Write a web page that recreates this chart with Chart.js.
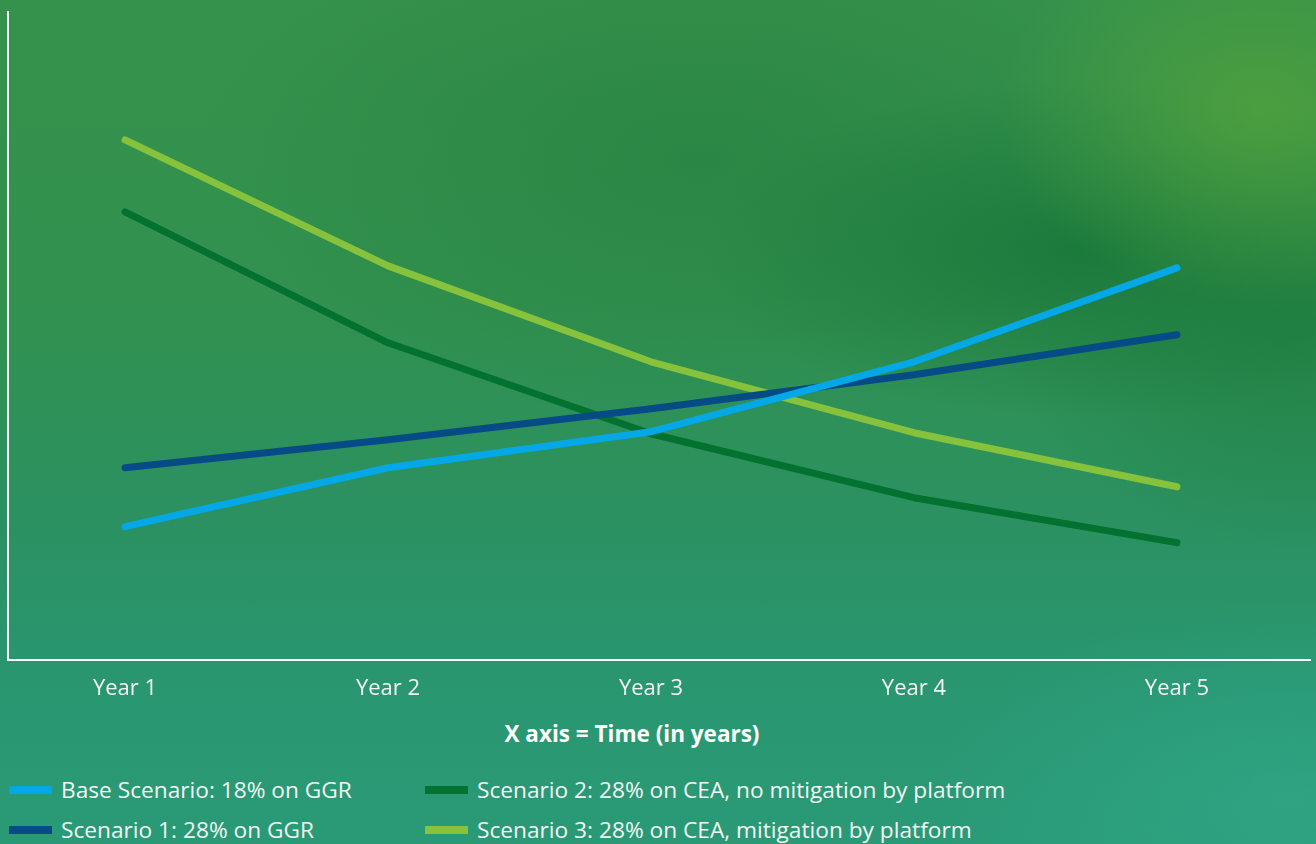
<!DOCTYPE html>
<html>
<head>
<meta charset="utf-8">
<script src="https://cdn.jsdelivr.net/npm/chart.js@4"></script>
<style>
  html, body { margin:0; padding:0; }
  body {
    width:1316px; height:844px; overflow:hidden; position:relative;
    font-family:"Open Sans", sans-serif;
    background:
      radial-gradient(ellipse 260px 200px at 1260px 110px, rgba(80,160,60,0.85), rgba(80,160,60,0) 100%),
      radial-gradient(ellipse 380px 170px at 1080px 250px, rgba(20,115,55,0.75), rgba(20,115,55,0) 100%),
      radial-gradient(ellipse 300px 220px at 1300px 330px, rgba(25,120,60,0.6), rgba(25,120,60,0) 100%),
      radial-gradient(ellipse 500px 260px at 700px 160px, rgba(35,125,60,0.55), rgba(35,125,60,0) 100%),
      radial-gradient(ellipse 360px 200px at 1290px 800px, rgba(50,170,140,0.6), rgba(50,170,140,0) 100%),
      linear-gradient(180deg, #35924c 0%, #32914f 35%, #2b9162 62%, #299670 80%, #2a9a76 100%);
  }
  #wrap { position:absolute; left:0; top:0; width:1316px; height:718px; }
  #xtitle { position:absolute; left:432px; width:400px; top:719px; text-align:center;
            color:#ffffff; font-weight:bold; font-size:22.5px; line-height:30px; white-space:nowrap; }
  #legend { position:absolute; left:0; top:770px; width:1316px; height:74px; }
  .item { position:absolute; display:flex; align-items:center; color:#f2f7f4; font-size:22.7px; line-height:28px; white-space:nowrap; }
  .swatch { width:43px; height:8px; margin-right:9px; }
</style>
</head>
<body>
<div id="wrap"><canvas id="c" width="1316" height="718"></canvas></div>
<div id="xtitle"></div>
<div id="legend"></div>
<script>
const categories = ["Year 1", "Year 2", "Year 3", "Year 4", "Year 5"];
const seriesNames = [
  "Base Scenario: 18% on GGR",
  "Scenario 1: 28% on GGR",
  "Scenario 2: 28% on CEA, no mitigation by platform",
  "Scenario 3: 28% on CEA, mitigation by platform"
];
const baseScenario = [133, 192, 228, 298, 392];
const scenario1 = [192, 220, 251, 285, 325];
const scenario2 = [448, 317, 226, 162, 117];
const scenario3 = [520, 394, 298, 227, 173];
const seriesColors = ["#05a8e6", "#074b86", "#03712f", "#86c23c"];
const xAxisTitle = "X axis = Time (in years)";

const allSeries = [baseScenario, scenario1, scenario2, scenario3];
const datasets = allSeries.map((vals, k) => ({
  label: seriesNames[k],
  data: vals.map((v, i) => ({ x: i, y: v })),
  borderColor: seriesColors[k],
  backgroundColor: seriesColors[k],
  borderWidth: 7,
  borderCapStyle: "round",
  borderJoinStyle: "round",
  pointRadius: 0,
  tension: 0,
  fill: false,
  order: [1, 2, 4, 3][k]
}));

new Chart(document.getElementById("c"), {
  type: "line",
  data: { datasets },
  options: {
    responsive: false,
    animation: false,
    layout: { padding: { left: 8, right: 6, top: 12, bottom: 0 } },
    plugins: { legend: { display: false }, tooltip: { enabled: false } },
    scales: {
      x: {
        type: "linear",
        min: -0.445,
        max: 4.506,
        afterBuildTicks: s => { s.ticks = categories.map((c, i) => ({ value: i })); },
        ticks: {
          callback: v => categories[v],
          color: "#f2f7f4",
          font: { family: "Open Sans", size: 22 },
          padding: 16,
          maxRotation: 0,
          autoSkip: false
        },
        grid: { display: false, drawTicks: false },
        border: { display: true, color: "#ffffff", width: 2 }
      },
      y: {
        min: 0,
        max: 648,
        ticks: { display: false },
        grid: { display: false, drawTicks: false },
        border: { display: true, color: "#ffffff", width: 2 }
      }
    }
  }
});

document.getElementById("xtitle").textContent = xAxisTitle;
const legend = document.getElementById("legend");
const pos = [[9, 20], [9, 60], [425, 20], [425, 60]];
seriesNames.forEach((n, k) => {
  const it = document.createElement("div");
  it.className = "item";
  it.style.left = pos[k][0] + "px";
  it.style.top = (pos[k][1] - 14) + "px";
  const sw = document.createElement("span");
  sw.className = "swatch";
  sw.style.background = seriesColors[k];
  const tx = document.createElement("span");
  tx.textContent = n;
  it.appendChild(sw); it.appendChild(tx);
  legend.appendChild(it);
});
</script>
</body>
</html>
